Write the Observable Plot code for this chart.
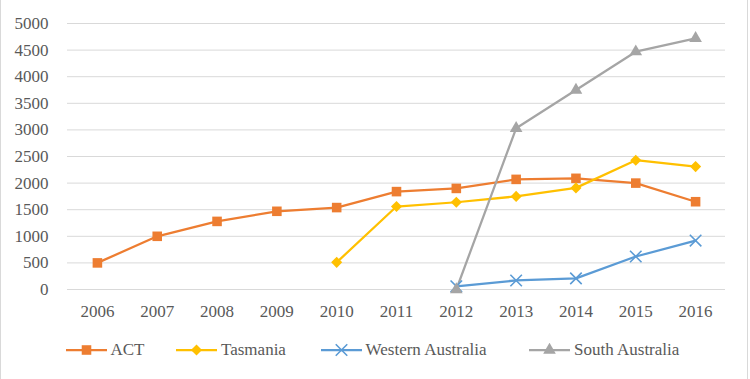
<!DOCTYPE html>
<html><head><meta charset="utf-8">
<script src="https://cdn.jsdelivr.net/npm/d3@7"></script>
<script src="https://cdn.jsdelivr.net/npm/@observablehq/plot@0.6"></script>
<style>
html,body{margin:0;padding:0;background:#fff;}
#chart{position:relative;width:746px;height:379px;border-left:1px solid #d9d9d9;border-right:1px solid #d9d9d9;font-family:'Liberation Serif',serif;color:#595959;overflow:hidden;background:#fff}
#plot svg{display:block}
#legend{position:absolute;top:340px;left:0;width:746px;height:20px}
.item{position:absolute;top:0;height:20px;display:flex;align-items:center;font-size:17px;white-space:nowrap;font-family:'Liberation Serif',serif}
.item svg{margin-right:4px}
</style>
</head><body>
<div id="chart"><div id="plot"></div><div id="legend"></div></div>
<script>
const years = [2006, 2007, 2008, 2009, 2010, 2011, 2012, 2013, 2014, 2015, 2016];
const seriesNames = ["ACT", "Tasmania", "Western Australia", "South Australia"];
const act = [500, 1000, 1280, 1470, 1540, 1840, 1900, 2070, 2090, 2000, 1650];
const tasmania = [null, null, null, null, 510, 1560, 1640, 1750, 1910, 2430, 2310];
const westernAustralia = [null, null, null, null, null, null, 60, 170, 210, 620, 920];
const southAustralia = [null, null, null, null, null, null, 0, 3030, 3750, 4470, 4720];
const yTicks = [0, 500, 1000, 1500, 2000, 2500, 3000, 3500, 4000, 4500, 5000];

const colors = ["#ED7D31", "#FFC000", "#5B9BD5", "#A5A5A5"];
const symbols = ["square", "diamond2", "times", "triangle"];
const radii = [5.4, 5.0, 5.3, 4.7];
const allValues = [act, tasmania, westernAustralia, southAustralia];
const FONT = "'Liberation Serif', serif";

const rows = [];
allValues.forEach((vals, si) => {
  vals.forEach((v, i) => { if (v != null) rows.push({series: seriesNames[si], year: years[i], value: v}); });
});

const marks = [Plot.gridY(yTicks, {stroke: "#d9d9d9", strokeOpacity: 1, strokeWidth: 1})];
seriesNames.forEach((name, si) => {
  const d = rows.filter(r => r.series === name);
  marks.push(Plot.line(d, {x: "year", y: "value", stroke: colors[si], strokeWidth: 2.25}));
});
seriesNames.forEach((name, si) => {
  const d = rows.filter(r => r.series === name);
  const isStroke = symbols[si] === "times";
  marks.push(Plot.dot(d, {x: "year", y: "value", symbol: symbols[si], r: radii[si],
    fill: isStroke ? "none" : colors[si], stroke: isStroke ? colors[si] : "none", strokeWidth: isStroke ? 1.6 : 0}));
});

const chart = Plot.plot({
  width: 746, height: 325,
  marginLeft: 66, marginRight: 22, marginTop: 23, marginBottom: 36,
  style: {fontFamily: FONT, fontSize: "17px", color: "#595959", background: "#fff"},
  x: {type: "point", domain: years, padding: 0.5, round: false, label: null, tickSize: 0, tickPadding: 15, tickFormat: d => String(d)},
  y: {domain: [0, 5000], ticks: yTicks, label: null, tickSize: 0, tickPadding: 19, tickFormat: d => String(d)},
  marks
});
chart.querySelectorAll("text").forEach(t => t.setAttribute("font-family", FONT));
document.getElementById("plot").appendChild(chart);

// legend
const legend = document.getElementById("legend");
const lefts = [64.5, 175, 319.6, 528];
const symMap = {square: d3.symbolSquare, diamond2: d3.symbolDiamond2, times: d3.symbolTimes, triangle: d3.symbolTriangle};
seriesNames.forEach((name, si) => {
  const item = document.createElement("div");
  item.className = "item";
  item.style.left = lefts[si] + "px";
  const svg = d3.create("svg").attr("width", 41).attr("height", 14);
  svg.append("line").attr("x1", 0).attr("x2", 41).attr("y1", 7).attr("y2", 7).attr("stroke", colors[si]).attr("stroke-width", 2.25);
  const path = d3.symbol(symMap[symbols[si]], Math.PI * radii[si] * radii[si])();
  const p = svg.append("path").attr("d", path).attr("transform", "translate(20.5,7)");
  if (symbols[si] === "times") p.attr("fill", "none").attr("stroke", colors[si]).attr("stroke-width", 1.6);
  else p.attr("fill", colors[si]);
  item.appendChild(svg.node());
  const span = document.createElement("span");
  span.textContent = name;
  item.appendChild(span);
  legend.appendChild(item);
});
</script>
</body></html>
